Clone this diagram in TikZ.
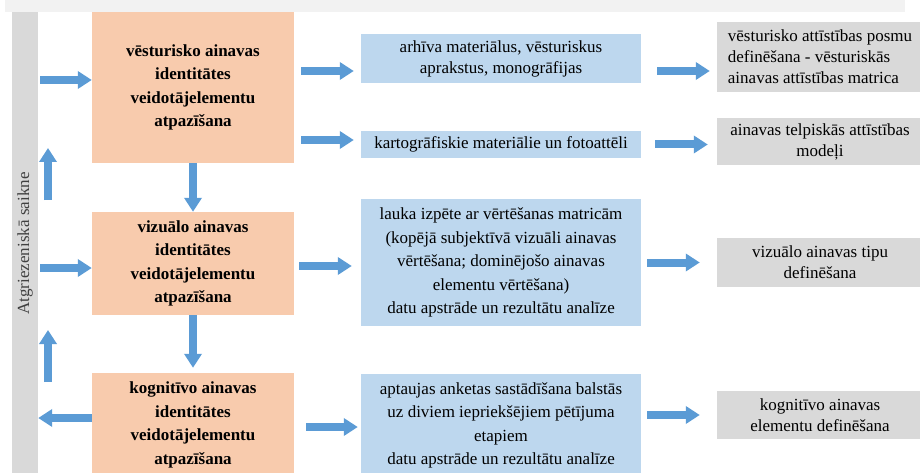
\documentclass[tikz,border=0pt]{standalone}
\usepackage{fontspec}
\setmainfont{Liberation Serif}
\usepackage{tikz}
\usetikzlibrary{arrows.meta, calc}
\definecolor{stagepeach}{RGB}{248, 203, 173}
\definecolor{methodblue}{RGB}{189, 215, 238}
\definecolor{resultgray}{RGB}{217, 217, 217}
\definecolor{bandgray}{RGB}{242, 242, 242}
\definecolor{flowblue}{RGB}{91, 155, 213}
\definecolor{labelgray}{RGB}{64, 64, 64}

\tikzset{
    stagebox/.style={fill=stagepeach, minimum width=202pt, inner sep=0pt, align=center,
                     font=\fontsize{17}{23.5}\selectfont\bfseries},
    methodbox/.style={fill=methodblue, minimum width=280pt, inner sep=0pt, align=center,
                      font=\fontsize{17}{23.5}\selectfont},
    resultbox/.style={fill=resultgray, minimum width=206pt, inner sep=0pt, align=center,
                      font=\fontsize{17}{21}\selectfont},
    flow/.style={draw=flowblue, line width=8pt, -{Triangle[length=14pt, width=17pt]}}
}

\begin{document}
\begin{tikzpicture}[x=1pt, y=-1pt]
    \useasboundingbox (0,0) rectangle (920,473);
    \fill[bandgray] (5,0) rectangle (905,12);

    % feedback bar
    \node[fill=resultgray, minimum width=26pt, minimum height=463pt, inner sep=0pt,
          text=labelgray, font=\fontsize{17}{20}\selectfont] (loop) at (25,243.5)
          {\rotatebox{90}{Atgriezeniskā saikne}};

    % stages
    \node[stagebox, minimum height=151pt] (hist) at (193,87.5)
        {vēsturisko ainavas\\identitātes\\veidotājelementu\\atpazīšana};
    \node[stagebox, minimum height=103pt] (vis) at (193,263.5)
        {vizuālo ainavas\\identitātes\\veidotājelementu\\atpazīšana};
    \node[stagebox, minimum height=104pt] (cogn) at (193,425)
        {kognitīvo ainavas\\identitātes\\veidotājelementu\\atpazīšana};

    % methods
    \node[methodbox, minimum height=49pt, font=\fontsize{17}{21}\selectfont] (archive) at (501,58.5)
        {arhīva materiālus, vēsturiskus\\aprakstus, monogrāfijas};
    \node[methodbox, minimum height=27pt] (cartog) at (501,144.5)
        {kartogrāfiskie materiālie un fotoattēli};
    \node[methodbox, minimum height=127pt] (field) at (501,262.5)
        {lauka izpēte ar vērtēšanas matricām\\(kopējā subjektīvā vizuāli ainavas\\vērtēšana; dominējošo ainavas\\elementu vērtēšana)\\datu apstrāde un rezultātu analīze};
    \node[methodbox, minimum height=103pt] (survey) at (501,425.5)
        {aptaujas anketas sastādīšana balstās\\uz diviem iepriekšējiem pētījuma\\etapiem\\datu apstrāde un rezultātu analīze};

    % results
    \node[resultbox, minimum height=70pt, align=left] (periods) at (820,57)
        {vēsturisko attīstības posmu\\definēšana - vēsturiskās\\ainavas attīstības matrica};
    \node[resultbox, minimum height=47pt] (models) at (820,141.5)
        {ainavas telpiskās attīstības\\modeļi};
    \node[resultbox, minimum height=49pt] (vtypes) at (820,262.5)
        {vizuālo ainavas tipu\\definēšana};
    \node[resultbox, minimum height=48pt] (celem) at (820,415)
        {kognitīvo ainavas\\elementu definēšana};

    % feedback arrows
    \coordinate (up1a) at (48,200);
    \coordinate (up1b) at (48,148);
    \coordinate (up2a) at (48,382);
    \coordinate (up2b) at (48,330);
    \draw[flow, shorten <=2pt] ([yshift=7.5pt]hist.west -| loop.east) -- ([yshift=7.5pt]hist.west);
    \draw[flow, shorten <=2pt] ([yshift=-4.5pt]vis.west -| loop.east) -- ([yshift=-4.5pt]vis.west);
    \draw[flow] ([yshift=7pt]cogn.west) -- ([yshift=7pt]cogn.west -| loop.east);
    \draw[flow] (up1a) -- (up1b);
    \draw[flow] (up2a) -- (up2b);

    % stage to stage
    \draw[flow] (hist.south) -- (vis.north);
    \draw[flow, shorten >=5pt] (vis.south) -- (cogn.north);

    % stage to method
    \draw[flow, shorten <=7pt, shorten >=7pt] ([yshift=-12.5pt]archive.west -| hist.east) -- ([yshift=-12.5pt]archive.west);
    \draw[flow, shorten <=7pt, shorten >=7pt] ([yshift=4.5pt]cartog.west -| hist.east) -- ([yshift=4.5pt]cartog.west);
    \draw[flow, shorten <=5pt, shorten >=9pt] ([yshift=-3.5pt]field.west -| vis.east) -- ([yshift=-3.5pt]field.west);
    \draw[flow, shorten <=12pt, shorten >=3pt] ([yshift=-1.5pt]survey.west -| cogn.east) -- ([yshift=-1.5pt]survey.west);

    % method to result
    \draw[flow, shorten <=16pt, shorten >=7pt] ([yshift=-12.5pt]archive.east) -- ([yshift=-12.5pt]archive.east -| periods.west);
    \draw[flow, shorten <=14pt, shorten >=9pt] (cartog.east) -- (cartog.east -| models.west);
    \draw[flow, shorten <=6pt, shorten >=17pt] (field.east) -- (field.east -| vtypes.west);
    \draw[flow, shorten <=6pt, shorten >=17pt] (survey.east |- celem.west) -- (celem.west);
\end{tikzpicture}
\end{document}
